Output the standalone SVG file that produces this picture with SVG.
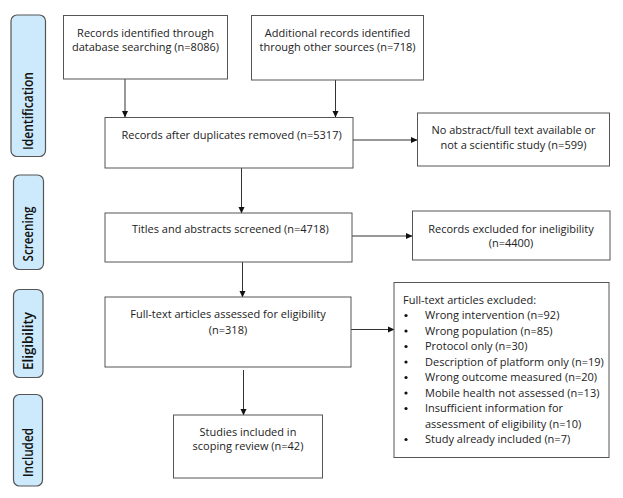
<svg xmlns="http://www.w3.org/2000/svg" width="623" height="498" viewBox="0 0 623 498">
<style>
.box{fill:#fff;stroke:#555;stroke-width:1}
.side{fill:#cdeafc;stroke:#555;stroke-width:1.2}
text{font-family:"Open Sans","Liberation Sans",sans-serif;font-size:11px;fill:#222}
.c{text-anchor:middle}
.st{font-size:13.5px;font-weight:600;text-anchor:middle;fill:#111}
.ln{stroke:#333;stroke-width:1;fill:none}
</style>
<defs>
<marker id="ah" markerWidth="7" markerHeight="7" refX="6" refY="3.5" orient="auto" markerUnits="userSpaceOnUse">
<path d="M0,0.5 L6.5,3.5 L0,6.5 Z" fill="#111"/>
</marker>
</defs>
<rect x="0" y="0" width="623" height="498" fill="#fff"/>
<g id="side-identification">
<rect class="side" x="11" y="15" width="34.5" height="141.5" rx="6"/>
<text class="st" transform="translate(33,111) rotate(-90)" textLength="78" lengthAdjust="spacingAndGlyphs">Identification</text>
</g>
<g id="side-screening">
<rect class="side" x="13.5" y="175" width="30" height="94.5" rx="6"/>
<text class="st" transform="translate(33,234) rotate(-90)" textLength="55" lengthAdjust="spacingAndGlyphs">Screening</text>
</g>
<g id="side-eligibility">
<rect class="side" x="13.5" y="289.5" width="29.5" height="88" rx="6"/>
<text class="st" transform="translate(33,341) rotate(-90)" textLength="58" lengthAdjust="spacingAndGlyphs">Eligibility</text>
</g>
<g id="side-included">
<rect class="side" x="13.5" y="394.5" width="29" height="91.5" rx="6"/>
<text class="st" transform="translate(33,452.5) rotate(-90)" textLength="49" lengthAdjust="spacingAndGlyphs">Included</text>
</g>
<g id="connectors">
<line class="ln" x1="125" y1="79" x2="125" y2="117" marker-end="url(#ah)"/>
<line class="ln" x1="335.5" y1="80" x2="335.5" y2="117" marker-end="url(#ah)"/>
<line class="ln" x1="353" y1="140" x2="417" y2="140" marker-end="url(#ah)"/>
<line class="ln" x1="241.5" y1="168" x2="241.5" y2="213" marker-end="url(#ah)"/>
<line class="ln" x1="352" y1="236" x2="412" y2="236" marker-end="url(#ah)"/>
<line class="ln" x1="242.5" y1="262" x2="242.5" y2="297" marker-end="url(#ah)"/>
<line class="ln" x1="351" y1="329.5" x2="394" y2="329.5" marker-end="url(#ah)"/>
<line class="ln" x1="243.5" y1="370" x2="243.5" y2="415" marker-end="url(#ah)"/>
</g>
<g id="n-database">
<rect class="box" x="63.5" y="15.5" width="164" height="63.5"/>
<text class="c" x="145.5" y="37">Records identified through</text>
<text class="c" x="145.5" y="50.5">database searching (n=8086)</text>
</g>
<g id="n-other">
<rect class="box" x="251.5" y="15.5" width="172" height="64.5"/>
<text class="c" x="337.5" y="37">Additional records identified</text>
<text class="c" x="337.5" y="50.5">through other sources (n=718)</text>
</g>
<g id="n-duplicates">
<rect class="box" x="105" y="117.5" width="248" height="50.5"/>
<text x="121.5" y="139">Records after duplicates removed (n=5317)</text>
</g>
<g id="n-noabstract">
<rect class="box" x="417.5" y="113" width="192" height="53"/>
<text class="c" x="513.5" y="134">No abstract/full text available or</text>
<text class="c" x="513.5" y="149">not a scientific study (n=599)</text>
</g>
<g id="n-titles">
<rect class="box" x="105" y="213" width="247" height="49"/>
<text x="132" y="233">Titles and abstracts screened (n=4718)</text>
</g>
<g id="n-ineligible">
<rect class="box" x="412.5" y="211" width="197.5" height="49"/>
<text class="c" x="511" y="232.5">Records excluded for ineligibility</text>
<text class="c" x="511" y="246.5">(n=4400)</text>
</g>
<g id="n-fulltext">
<rect class="box" x="105" y="297" width="246" height="70"/>
<text class="c" x="228" y="318">Full-text articles assessed for eligibility</text>
<text class="c" x="228" y="334">(n=318)</text>
</g>
<g id="n-excluded">
<rect class="box" x="394" y="282.5" width="215" height="175"/>
<text x="403" y="304">Full-text articles excluded:</text>
<g fill="#111">
<circle cx="406" cy="315.5" r="1.6"/>
<circle cx="406" cy="331" r="1.6"/>
<circle cx="406" cy="346.5" r="1.6"/>
<circle cx="406" cy="362" r="1.6"/>
<circle cx="406" cy="377.5" r="1.6"/>
<circle cx="406" cy="393" r="1.6"/>
<circle cx="406" cy="408.5" r="1.6"/>
<circle cx="406" cy="439.5" r="1.6"/>
</g>
<text x="425" y="319">Wrong intervention (n=92)</text>
<text x="425" y="334.5">Wrong population (n=85)</text>
<text x="425" y="350">Protocol only (n=30)</text>
<text x="425" y="365.5">Description of platform only (n=19)</text>
<text x="425" y="381">Wrong outcome measured (n=20)</text>
<text x="425" y="396.5">Mobile health not assessed (n=13)</text>
<text x="425" y="412">Insufficient information for</text>
<text x="425" y="427.5">assessment of eligibility (n=10)</text>
<text x="425" y="443">Study already included (n=7)</text>
</g>
<g id="n-included">
<rect class="box" x="173.5" y="415" width="149" height="63"/>
<text class="c" x="248" y="435.5">Studies included in</text>
<text class="c" x="248" y="450">scoping review (n=42)</text>
</g>
</svg>
